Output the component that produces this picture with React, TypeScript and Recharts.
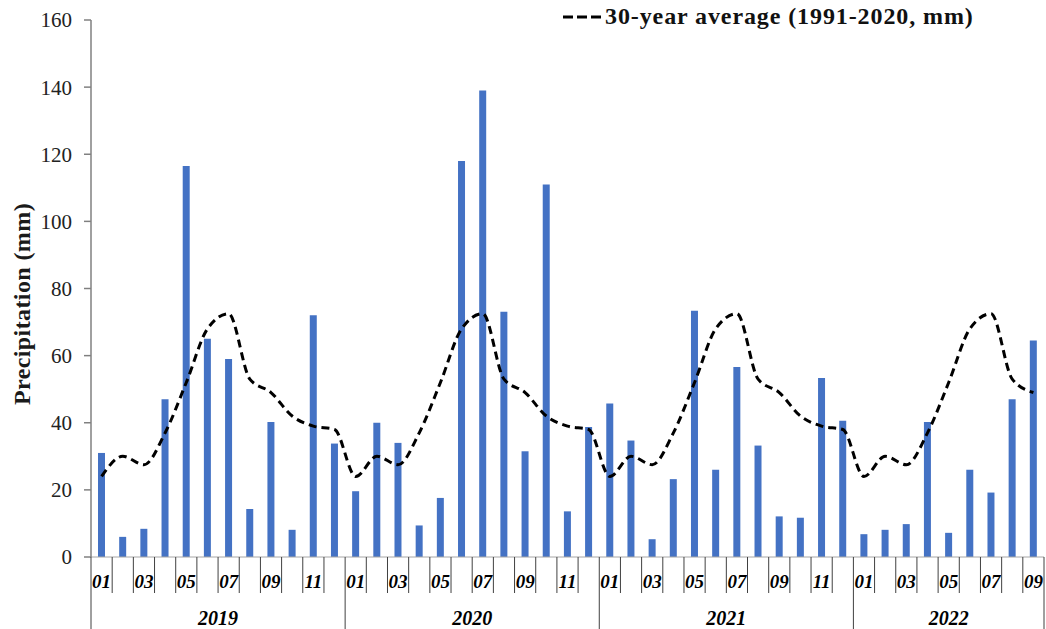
import React from 'react';
import { ComposedChart, Bar, Line, XAxis, YAxis, Legend, Label } from 'recharts';

const years = ['2019', '2020', '2021', '2022'];
const monthsPerYear = [12, 12, 12, 9];
const monthLabels = ['01', '02', '03', '04', '05', '06', '07', '08', '09', '10', '11', '12'];
const precip2019 = [31, 6, 8.4, 47, 116.5, 65, 59, 14.3, 40.2, 8.1, 72, 33.8];
const precip2020 = [19.6, 40, 34, 9.4, 17.6, 118, 139, 73.1, 31.5, 111, 13.6, 38.7];
const precip2021 = [45.7, 34.7, 5.3, 23.2, 73.4, 26, 56.6, 33.2, 12.1, 11.7, 53.3, 40.6];
const precip2022 = [6.8, 8.1, 9.8, 40.2, 7.2, 26, 19.2, 47, 64.5];
const avg30 = [24, 30, 27.5, 37, 52, 68, 72.5, 53, 49, 42, 39, 38];
const yTicks = [0, 20, 40, 60, 80, 100, 120, 140, 160];
const avgName = '30-year average (1991-2020, mm)';
const yTitle = 'Precipitation (mm)';

const precipByYear = [precip2019, precip2020, precip2021, precip2022];

type Row = { key: string; year: string; month: string; mi: number; first: boolean; last: boolean; count: number; precip: number; avg: number };

const data: Row[] = [];
years.forEach((year, yi) => {
  const n = monthsPerYear[yi];
  for (let i = 0; i < n; i++) {
    data.push({
      key: `${year}-${monthLabels[i]}`,
      year,
      month: monthLabels[i],
      mi: i,
      first: i === 0,
      last: yi === years.length - 1 && i === n - 1,
      count: n,
      precip: precipByYear[yi][i],
      avg: avg30[i],
    });
  }
});
const rowByKey: Record<string, Row> = {};
data.forEach((r) => (rowByKey[r.key] = r));

const FONT = "'Liberation Serif', 'Times New Roman', serif";

const MonthTick = (props: any) => {
  const { x, y, payload } = props;
  const row = rowByKey[payload.value];
  if (!row) return null;
  const off = payload.offset || 0;
  const left = x - off;
  const els: any[] = [];
  els.push(
    <line key="b" x1={left} x2={left} y1={y} y2={row.first ? y + 72 : y + 36} stroke="#404040" strokeWidth={1} />
  );
  if (row.last) {
    els.push(<line key="e" x1={x + off} x2={x + off} y1={y} y2={y + 72} stroke="#404040" strokeWidth={1} />);
  }
  if (row.mi % 2 === 0) {
    els.push(
      <text key="m" x={x} y={y + 31} textAnchor="middle" fontFamily={FONT} fontWeight="bold" fontStyle="italic" fontSize={19} fill="#000">
        {row.month}
      </text>
    );
  }
  if (row.first) {
    const cx = left + row.count * off;
    els.push(
      <text key="y" x={cx} y={y + 68} textAnchor="middle" fontFamily={FONT} fontWeight="bold" fontStyle="italic" fontSize={20} fill="#000">
        {row.year}
      </text>
    );
  }
  return <g>{els}</g>;
};

const YTitle = () => (
  <text
    x={22}
    y={304}
    transform="rotate(-90, 22, 304)"
    textAnchor="middle"
    dominantBaseline="central"
    fontFamily={FONT}
    fontWeight="bold"
    fontSize={24}
    letterSpacing={0.4}
    fill="#1a1a1a"
  >
    {yTitle}
  </text>
);

const LegendContent = (props: any) => {
  const items = (props.payload || []).filter((p: any) => p.type !== 'none');
  return (
    <div style={{ display: 'flex', flexDirection: 'column' }}>
      {items.map((p: any) => (
        <div key={p.value} style={{ display: 'flex', alignItems: 'center', fontFamily: FONT, fontWeight: 'bold', fontSize: 24, letterSpacing: 0.9, color: '#111', whiteSpace: 'nowrap' }}>
          <svg width={42} height={10} style={{ marginRight: 1 }}>
            <line x1={1} y1={5} x2={42} y2={5} stroke="#000" strokeWidth={3} strokeDasharray="10 4" />
          </svg>
          <span>{p.value}</span>
        </div>
      ))}
    </div>
  );
};

export default function App() {
  return (
    <div style={{ position: 'absolute', left: 0, top: 0, background: '#fff' }}>
      <ComposedChart width={1046} height={629} data={data} margin={{ top: 20, right: 2, bottom: 0, left: 0 }}>
        <XAxis
          dataKey="key"
          interval={0}
          tickSize={0}
          tickMargin={0}
          height={72}
          axisLine={{ stroke: '#a6a6a6', strokeWidth: 1 }}
          tick={<MonthTick />}
        />
        <YAxis
          width={91}
          domain={[0, 160]}
          ticks={yTicks}
          interval={0}
          tickSize={7}
          tickMargin={12}
          axisLine={{ stroke: '#808080', strokeWidth: 1.5 }}
          tickLine={{ stroke: '#808080', strokeWidth: 1.5 }}
          tick={{ fontFamily: FONT, fontSize: 21, fill: '#222' }}
        >
          <Label content={<YTitle />} />
        </YAxis>
        <Legend
          verticalAlign="middle"
          align="center"
          layout="horizontal"
          wrapperStyle={{ top: 3, left: 562, width: 'auto', height: 'auto' }}
          content={<LegendContent />}
        />
        <Bar dataKey="precip" fill="#4472C4" barSize={7} isAnimationActive={false} legendType="none" name="Precipitation" />
        <Line
          type="monotone"
          dataKey="avg"
          name={avgName}
          stroke="#000"
          strokeWidth={3}
          strokeDasharray="8 5"
          dot={false}
          activeDot={false}
          isAnimationActive={false}
          legendType="line"
        />
      </ComposedChart>
    </div>
  );
}
